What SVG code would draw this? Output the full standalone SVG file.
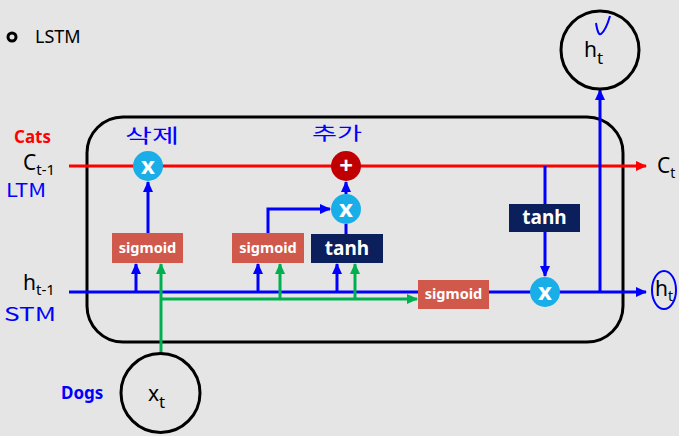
<svg xmlns="http://www.w3.org/2000/svg" width="679" height="436" viewBox="0 0 679 436">
<defs>
<marker id="ab" markerUnits="userSpaceOnUse" markerWidth="11" markerHeight="10" refX="10" refY="5" orient="auto"><path d="M0,0 L11,5 L0,10 z" fill="#0000FF"/></marker>
<marker id="ar" markerUnits="userSpaceOnUse" markerWidth="11" markerHeight="10" refX="10" refY="5" orient="auto"><path d="M0,0 L11,5 L0,10 z" fill="#FF0000"/></marker>
<marker id="ag" markerUnits="userSpaceOnUse" markerWidth="11" markerHeight="10" refX="10" refY="5" orient="auto"><path d="M0,0 L11,5 L0,10 z" fill="#00B050"/></marker>
</defs>
<style>
text{font-family:"Noto Sans","Liberation Sans","Noto Sans CJK KR",sans-serif;}
.b{stroke:#0000FF;stroke-width:3;fill:none;}
.g{stroke:#00B050;stroke-width:3;fill:none;}
.r{stroke:#FF0000;stroke-width:3;fill:none;}
.sig{fill:#D0594C;}
.tanh{fill:#0A1F5C;}
.lbl{fill:#fff;font-weight:bold;text-anchor:middle;}
.mul{fill:#1AAEE8;}
.op{fill:#fff;font-weight:bold;font-size:24px;text-anchor:middle;}
.hand{fill:#0000FF;font-family:"Noto Sans CJK KR","Noto Sans",sans-serif;}
.var{fill:#000;font-size:21px;}
</style>
<rect width="679" height="436" fill="#E5E5E5"/>
<g id="title">
<circle cx="12" cy="37" r="4" fill="none" stroke="#000" stroke-width="3"/>
<text x="35" y="43" font-size="18" fill="#000">LSTM</text>
</g>
<g id="cell">
<rect x="87" y="117" width="536" height="225" rx="36" ry="36" fill="none" stroke="#000" stroke-width="3"/>
</g>
<g id="connectors">
<line class="r" x1="69" y1="166" x2="646" y2="166" marker-end="url(#ar)"/>
<line class="b" x1="69" y1="292" x2="646" y2="292" marker-end="url(#ab)"/>
<line class="g" x1="161" y1="354" x2="161" y2="264" marker-end="url(#ag)"/>
<line class="g" x1="161" y1="299" x2="417" y2="299" marker-end="url(#ag)"/>
<line class="g" x1="280" y1="299" x2="280" y2="264" marker-end="url(#ag)"/>
<line class="g" x1="355" y1="299" x2="355" y2="264" marker-end="url(#ag)"/>
<line class="b" x1="136" y1="292" x2="136" y2="264" marker-end="url(#ab)"/>
<line class="b" x1="258" y1="292" x2="258" y2="264" marker-end="url(#ab)"/>
<line class="b" x1="337" y1="292" x2="337" y2="264" marker-end="url(#ab)"/>
<line class="b" x1="148" y1="233" x2="148" y2="182" marker-end="url(#ab)"/>
<polyline class="b" points="268,234 268,209 330,209" marker-end="url(#ab)"/>
<line class="b" x1="346" y1="234" x2="346" y2="224"/>
<line class="b" x1="346" y1="194" x2="346" y2="182" marker-end="url(#ab)"/>
<line class="b" x1="545" y1="166" x2="545" y2="204"/>
<line class="b" x1="545" y1="232" x2="545" y2="276" marker-end="url(#ab)"/>
<line class="b" x1="600" y1="292" x2="600" y2="90" marker-end="url(#ab)"/>
</g>
<g id="mul1"><circle class="mul" cx="148" cy="166" r="15"/><text class="op" x="148" y="174">x</text></g>
<g id="add"><circle cx="346" cy="166" r="15" fill="#C00000"/><text class="op" x="346" y="174">+</text></g>
<g id="mul2"><circle class="mul" cx="346" cy="209" r="15"/><text class="op" x="346" y="217">x</text></g>
<g id="mul3"><circle class="mul" cx="545" cy="292" r="15"/><text class="op" x="545" y="300">x</text></g>
<g id="sigmoid1"><rect class="sig" x="112" y="233" width="71" height="30"/><text class="lbl" x="147.5" y="253" font-size="14.5">sigmoid</text></g>
<g id="sigmoid2"><rect class="sig" x="232" y="233" width="72" height="30"/><text class="lbl" x="268" y="253" font-size="14.5">sigmoid</text></g>
<g id="tanh1"><rect class="tanh" x="311" y="234" width="72" height="29"/><text class="lbl" x="347" y="255" font-size="19">tanh</text></g>
<g id="sigmoid3"><rect class="sig" x="418" y="280" width="71" height="29"/><text class="lbl" x="453.5" y="299" font-size="14.5">sigmoid</text></g>
<g id="tanh2"><rect class="tanh" x="509" y="204" width="71" height="28"/><text class="lbl" x="544.5" y="224" font-size="19">tanh</text></g>
<g id="ht_out"><circle cx="600" cy="50" r="39" fill="none" stroke="#000" stroke-width="3"/><text class="var" x="584" y="57" font-size="25">h<tspan font-size="17" dy="7">t</tspan></text>
<path d="M596,23 Q598,36 601,34 Q606,30 610,16" fill="none" stroke="#0000FF" stroke-width="2"/></g>
<g id="xt"><circle cx="160.5" cy="393" r="39.5" fill="none" stroke="#000" stroke-width="3"/><text class="var" x="148" y="401" font-size="25">x<tspan font-size="17" dy="7">t</tspan></text></g>
<g id="labels">
<text x="14" y="143" font-size="17" font-weight="bold" fill="#FF0000">Cats</text>
<text x="23" y="170" class="var">C<tspan font-size="15" dy="5">t-1</tspan></text>
<text x="6" y="197" class="hand" font-size="18" textLength="40" lengthAdjust="spacingAndGlyphs">LTM</text>
<text x="4" y="321" class="hand" font-size="18" textLength="52" lengthAdjust="spacingAndGlyphs">STM</text>
<text x="23" y="290" class="var">h<tspan font-size="15" dy="5">t-1</tspan></text>
<text x="61" y="399" font-size="17" font-weight="bold" fill="#0000FF">Dogs</text>
<text x="657" y="173" class="var" font-size="20">C<tspan font-size="14" dy="5">t</tspan></text>
<text x="655" y="296" class="var" font-size="20">h<tspan font-size="14" dy="5">t</tspan></text>
<ellipse cx="664" cy="290" rx="12" ry="19" fill="none" stroke="#0000FF" stroke-width="2"/>
<text x="125" y="143" class="hand" font-size="19" textLength="54" lengthAdjust="spacingAndGlyphs">삭제</text>
<text x="312" y="140" class="hand" font-size="18" textLength="50" lengthAdjust="spacingAndGlyphs">추가</text>
</g>
</svg>
